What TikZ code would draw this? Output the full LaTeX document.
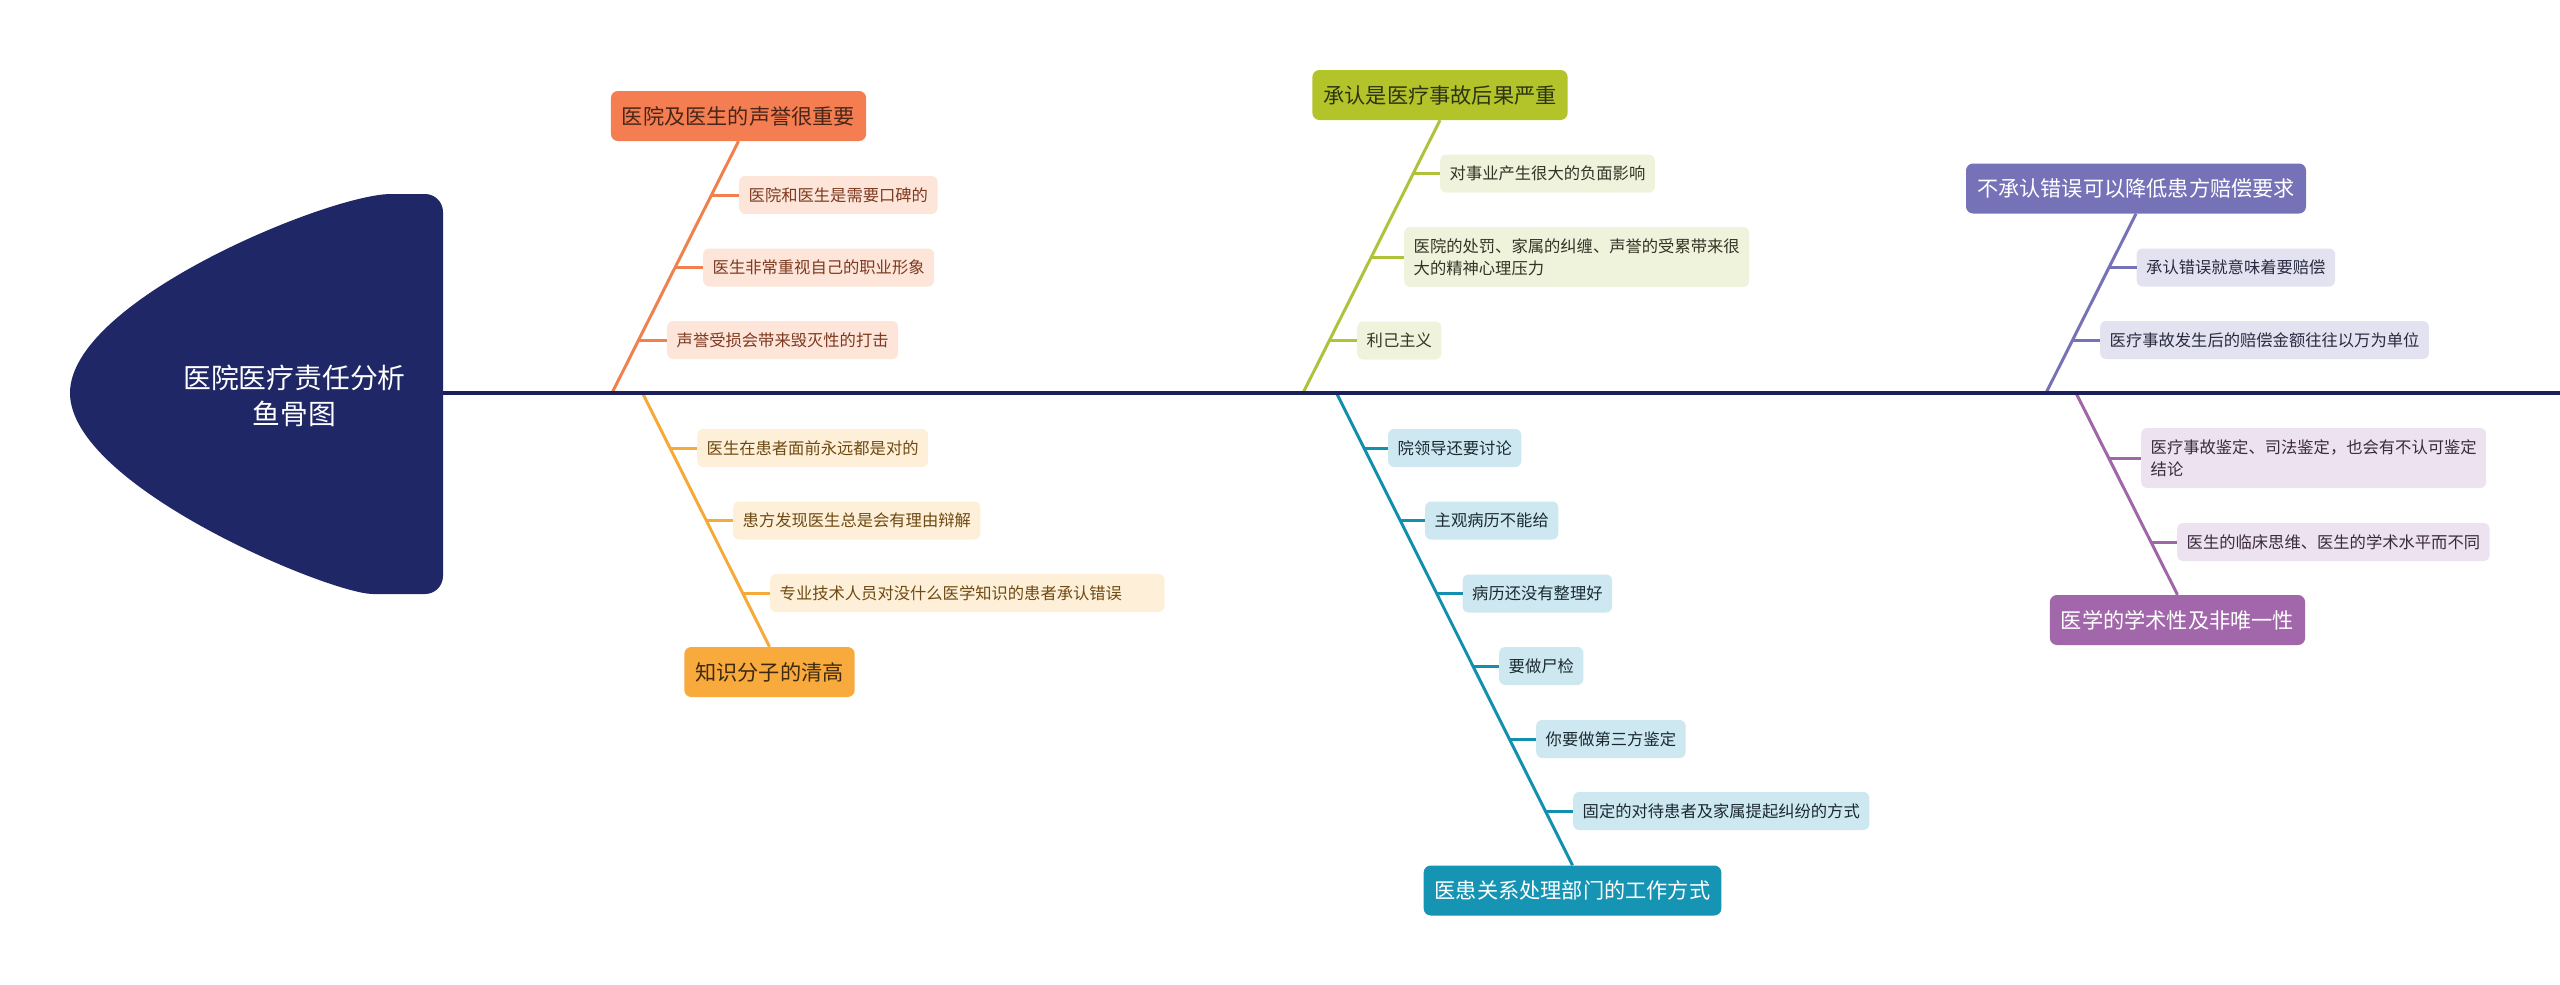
\documentclass[tikz,border=0pt]{standalone}
\usepackage{fontspec}
\setmainfont{Noto Sans CJK SC}
\definecolor{headfill}{HTML}{202766}
\definecolor{spinec}{HTML}{1B205C}
\definecolor{oTop}{HTML}{F47E52}
\definecolor{oTopText}{HTML}{4A2618}
\definecolor{oLine}{HTML}{F0814F}
\definecolor{oLeaf}{HTML}{FDE5D9}
\definecolor{oText}{HTML}{7E3A20}
\definecolor{yTop}{HTML}{F9AA3C}
\definecolor{yTopText}{HTML}{3E2A10}
\definecolor{yLine}{HTML}{F5AA3A}
\definecolor{yLeaf}{HTML}{FEF0D8}
\definecolor{yText}{HTML}{6E4A14}
\definecolor{gTop}{HTML}{B3C42B}
\definecolor{gTopText}{HTML}{2E3312}
\definecolor{gLine}{HTML}{AFC23A}
\definecolor{gLeaf}{HTML}{F0F3DB}
\definecolor{gText}{HTML}{333326}
\definecolor{tTop}{HTML}{1594B3}
\definecolor{tLine}{HTML}{1390AE}
\definecolor{tLeaf}{HTML}{CDE8F1}
\definecolor{tText}{HTML}{1C2A30}
\definecolor{bTop}{HTML}{7572B8}
\definecolor{bLine}{HTML}{7572B8}
\definecolor{bLeaf}{HTML}{E3E2F1}
\definecolor{bText}{HTML}{2A2A40}
\definecolor{pTop}{HTML}{A266AA}
\definecolor{pLine}{HTML}{A066A8}
\definecolor{pLeaf}{HTML}{EDE2F0}
\definecolor{pText}{HTML}{3A2A3D}
\begin{document}
\begin{tikzpicture}[x=1pt,y=-1pt,
  leafbase/.style={anchor=west, rounded corners=6pt, inner xsep=9.5pt, font=\fontsize{16.3pt}{21.7pt}\selectfont},
  leaf/.style={leafbase, inner ysep=10.85pt, text height=14.3pt, text depth=2pt},
  leafii/.style={leafbase, align=left, inner ysep=4pt, minimum height=60pt},
  topic/.style={rounded corners=7pt, inner xsep=11pt, inner ysep=14.4pt, text height=18.7pt, text depth=2.5pt, font=\fontsize{21.2pt}{25pt}\selectfont},
  bone/.style={line width=3pt},
]
\useasboundingbox (0,0) rectangle (2560,985);
\fill[white] (0,0) rectangle (2560,985);

% head
\fill[headfill] (70,393) .. controls (70,300) and (330,194) .. (391,194)
  [rounded corners=18pt] -- (443,194) -- (443,594) -- (391,594)
  [sharp corners] .. controls (330,594) and (70,486) .. (70,393) -- cycle;
\node[text=white, align=center, font=\fontsize{27.8pt}{36pt}\selectfont] (head) at (294.5,396) {医院医疗责任分析\\鱼骨图};
\coordinate (spineL) at (443,393);
\coordinate (spineR) at (2560,393);

% ---------- orange top
\node[topic, fill=oTop, text=oTopText] (oT) at (738.5,116) {医院及医生的声誉很重要};
\node[leaf, fill=oLeaf, text=oText] (oL1) at (739,195) {医院和医生是需要口碑的};
\node[leaf, fill=oLeaf, text=oText] (oL2) at (703,267.5) {医生非常重视自己的职业形象};
\node[leaf, fill=oLeaf, text=oText] (oL3) at (667,340) {声誉受损会带来毁灭性的打击};
\coordinate (oB) at (612,393);
\coordinate (o1) at (711,195);
\coordinate (o2) at (674.75,267.5);
\coordinate (o3) at (638.5,340);
\draw[bone, oLine] (oT.south) -- (oB);
\draw[bone, oLine] (o1) -- (oL1.west);
\draw[bone, oLine] (o2) -- (oL2.west);
\draw[bone, oLine] (o3) -- (oL3.west);

% ---------- yellow bottom
\node[topic, fill=yTop, text=yTopText] (yT) at (769.5,672) {知识分子的清高};
\node[leaf, fill=yLeaf, text=yText] (yL1) at (697,448) {医生在患者面前永远都是对的};
\node[leaf, fill=yLeaf, text=yText] (yL2) at (733,520.5) {患方发现医生总是会有理由辩解};
\node[leaf, fill=yLeaf, text=yText] (yL3) at (770,593) {专业技术人员对没什么医学知识的患者承认错误\hspace*{33pt}};
\coordinate (yB) at (642.5,393);
\coordinate (y1) at (670,448);
\coordinate (y2) at (706.25,520.5);
\coordinate (y3) at (742.5,593);
\draw[bone, yLine] (yB) -- (yT.north);
\draw[bone, yLine] (y1) -- (yL1.west);
\draw[bone, yLine] (y2) -- (yL2.west);
\draw[bone, yLine] (y3) -- (yL3.west);

% ---------- green top
\node[topic, fill=gTop, text=gTopText] (gT) at (1440,95) {承认是医疗事故后果严重};
\node[leaf, fill=gLeaf, text=gText] (gL1) at (1440,173.5) {对事业产生很大的负面影响};
\node[leafii, fill=gLeaf, text=gText] (gL2) at (1404,257) {医院的处罚、家属的纠缠、声誉的受累带来很\\大的精神心理压力};
\node[leaf, fill=gLeaf, text=gText] (gL3) at (1357,340.5) {利己主义};
\coordinate (gB) at (1303,393);
\coordinate (g1) at (1413.1,173.5);
\coordinate (g2) at (1371.2,257);
\coordinate (g3) at (1329.3,340.5);
\draw[bone, gLine] (gT.south) -- (gB);
\draw[bone, gLine] (g1) -- (gL1.west);
\draw[bone, gLine] (g2) -- (gL2.west);
\draw[bone, gLine] (g3) -- (gL3.west);

% ---------- teal bottom
\node[topic, fill=tTop, text=white] (tT) at (1572.5,890.5) {医患关系处理部门的工作方式};
\node[leaf, fill=tLeaf, text=tText] (tL1) at (1388,448) {院领导还要讨论};
\node[leaf, fill=tLeaf, text=tText] (tL2) at (1425,520.5) {主观病历不能给};
\node[leaf, fill=tLeaf, text=tText] (tL3) at (1462.5,593.5) {病历还没有整理好};
\node[leaf, fill=tLeaf, text=tText] (tL4) at (1499,666) {要做尸检};
\node[leaf, fill=tLeaf, text=tText] (tL5) at (1536,739) {你要做第三方鉴定};
\node[leaf, fill=tLeaf, text=tText] (tL6) at (1573,811) {固定的对待患者及家属提起纠纷的方式};
\coordinate (tB) at (1336.5,393);
\coordinate (t1) at (1364,448);
\coordinate (t2) at (1400.25,520.5);
\coordinate (t3) at (1436.75,593.5);
\coordinate (t4) at (1473,666);
\coordinate (t5) at (1509.5,739);
\coordinate (t6) at (1545.5,811);
\draw[bone, tLine] (tB) -- (tT.north);
\foreach \i in {1,...,6} \draw[bone, tLine] (t\i) -- (tL\i.west);

% ---------- blue-purple top
\node[topic, fill=bTop, text=white] (bT) at (2136,188.5) {不承认错误可以降低患方赔偿要求};
\node[leaf, fill=bLeaf, text=bText] (bL1) at (2136.5,267.5) {承认错误就意味着要赔偿};
\node[leaf, fill=bLeaf, text=bText] (bL2) at (2100,340) {医疗事故发生后的赔偿金额往往以万为单位};
\coordinate (bB) at (2046,393);
\coordinate (b1) at (2108.75,267.5);
\coordinate (b2) at (2072.5,340);
\draw[bone, bLine] (bT.south) -- (bB);
\draw[bone, bLine] (b1) -- (bL1.west);
\draw[bone, bLine] (b2) -- (bL2.west);

% ---------- purple bottom
\node[topic, fill=pTop, text=white] (pT) at (2177.5,620) {医学的学术性及非唯一性};
\node[leafii, fill=pLeaf, text=pText] (pL1) at (2141,458) {医疗事故鉴定、司法鉴定，也会有不认可鉴定\\结论};
\node[leaf, fill=pLeaf, text=pText] (pL2) at (2177,542) {医生的临床思维、医生的学术水平而不同};
\coordinate (pB) at (2076,393);
\coordinate (p1) at (2108.5,458);
\coordinate (p2) at (2150.5,542);
\draw[bone, pLine] (pB) -- (pT.north);
\draw[bone, pLine] (p1) -- (pL1.west);
\draw[bone, pLine] (p2) -- (pL2.west);

% spine
\draw[line width=4.5pt, spinec] (spineL) -- (spineR);
\end{tikzpicture}
\end{document}
